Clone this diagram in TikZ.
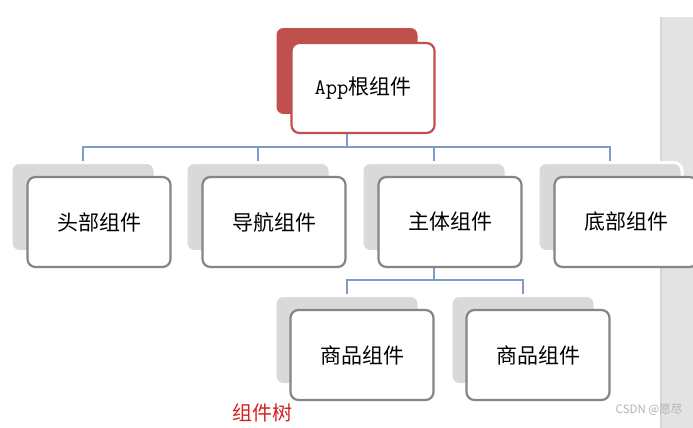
\documentclass[tikz,border=0pt]{standalone}
\usepackage{fontspec}
\usepackage{xcolor}
\usetikzlibrary{backgrounds}
\newfontfamily\cjk{Noto Sans CJK SC}
\definecolor{rootred}{HTML}{C0504D}
\definecolor{boxgray}{HTML}{858585}
\definecolor{shadowgray}{HTML}{D9D9D9}
\definecolor{linkblue}{HTML}{7F9CC8}
\definecolor{bandgray}{HTML}{E3E3E3}
\definecolor{labelred}{HTML}{D42020}
\tikzset{
  backbox/.style={draw=white, line width=3pt, fill=shadowgray, rounded corners=8pt,
    minimum width=144pt, minimum height=89pt, inner sep=0pt},
  frontbox/.style={draw=boxgray, line width=2.2pt, fill=white, rounded corners=8pt,
    minimum width=143pt, minimum height=90pt, inner sep=0pt,
    font=\cjk\fontsize{21}{25}\selectfont},
  link/.style={draw=linkblue, line width=1.2pt}
}

\begin{document}
\begin{tikzpicture}[x=1pt, y=-1pt]
    \useasboundingbox (0,0) rectangle (693,428);
    \clip (0,0) rectangle (693,428);
    \fill[bandgray] (660,17) rectangle (693,428);
    \fill[black!16] (660,17) rectangle (661.5,428);

    % root
    \node[backbox, fill=rootred] (root-bg) at (347,71) {};
    \node[frontbox, draw=rootred] (root) at (363,88) {{\ttfamily\fontsize{22}{25}\selectfont App}根组件};

    % first level
    \foreach \name/\x/\lab in {head/83/头部组件, nav/258/导航组件, main/434/主体组件, foot/610/底部组件} {
      \node[backbox] (\name-bg) at (\x,207) {};
      \node[frontbox] (\name) at (\x+16,222) {\lab};
    }

    % second level
    \foreach \name/\x in {goodsA/347, goodsB/523} {
      \node[backbox] (\name-bg) at (\x,340) {};
      \node[frontbox] (\name) at (\x+15,355) {商品组件};
    }

    \begin{scope}[on background layer]
      \coordinate (bus) at (347,147);
      \draw[link] (root-bg.south) -- (bus);
      \foreach \name in {head, nav, main, foot}
        \draw[link] (bus) -| (\name-bg.north);
      \coordinate (subbus) at (434,280);
      \draw[link] (main-bg.south) -- (subbus);
      \foreach \name in {goodsA, goodsB}
        \draw[link] (subbus) -| (\name-bg.north);
    \end{scope}

    \node[font=\cjk\fontsize{20}{24}\selectfont, text=labelred] (title) at (262,413) {组件树};
    \node[font=\cjk\fontsize{11.5}{13}\selectfont, text=black!30] (mark) at (649,410) {CSDN @愿尽};
  \end{tikzpicture}
\end{document}
